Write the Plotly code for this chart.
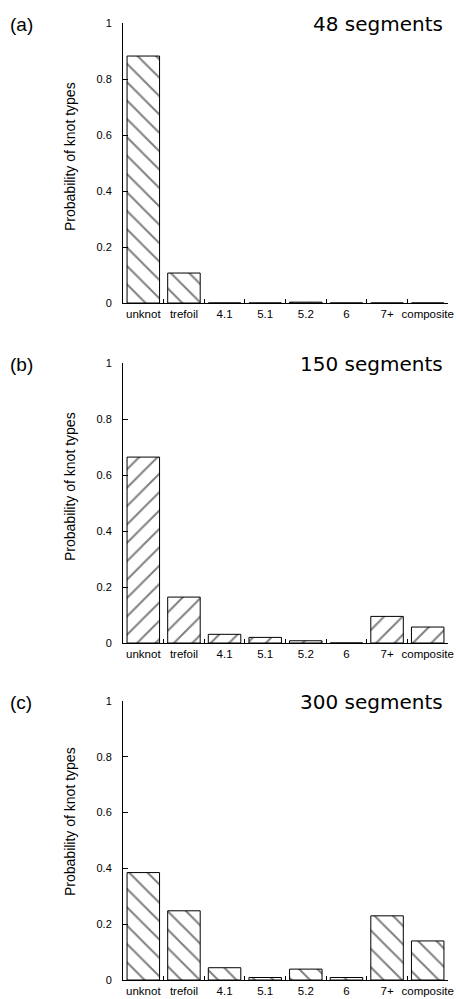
import plotly.graph_objects as go

categories = ["unknot", "trefoil", "4.1", "5.1", "5.2", "6", "7+", "composite"]
prob_48 = [0.882, 0.107, 0.0, 0.0, 0.003, 0.0, 0.0, 0.0]
prob_150 = [0.664, 0.164, 0.031, 0.020, 0.008, 0.0, 0.095, 0.057]
prob_300 = [0.385, 0.248, 0.044, 0.009, 0.039, 0.009, 0.230, 0.140]
series = [prob_48, prob_150, prob_300]
panel_letters = ["(a)", "(b)", "(c)"]
panel_titles = ["48 segments", "150 segments", "300 segments"]
hatch_shapes = ["\\", "/", "\\"]
y_ticks = [0, 0.2, 0.4, 0.6, 0.8, 1]
y_tick_text = ["0", "0.2", "0.4", "0.6", "0.8", "1"]
y_title = "Probability of knot types"

W, H = 456, 999
panel_px = [(23, 303), (363, 643), (701, 980)]  # top, bottom pixel of y range
ytitle_center_px = [157, 487, 822]
x_left, x_right = 123, 448

fig = go.Figure()
font_main = "Liberation Sans, Arial, sans-serif"

for i, vals in enumerate(series):
    n = i + 1
    xa = "x" if n == 1 else f"x{n}"
    ya = "y" if n == 1 else f"y{n}"
    fig.add_trace(go.Bar(
        x=categories, y=vals, xaxis=xa, yaxis=ya, width=0.8,
        marker=dict(color="white", line=dict(color="black", width=1),
                    pattern=dict(shape=hatch_shapes[i], size=13, solidity=0.15,
                                 fgcolor="black", bgcolor="white")),
        showlegend=False, hoverinfo="skip"))
    top, bot = panel_px[i]
    dom_y = [1 - bot / H, 1 - top / H]
    xkey = "xaxis" if n == 1 else f"xaxis{n}"
    ykey = "yaxis" if n == 1 else f"yaxis{n}"
    fig.update_layout(**{
        xkey: dict(domain=[x_left / W, x_right / W], anchor=ya, type="category",
                   range=[-0.5, 7.5], showline=True, linecolor="black", linewidth=1,
                   ticks="inside", tickson="boundaries", ticklen=4, tickcolor="black",
                   tickwidth=1, showgrid=False, zeroline=False, tickangle=0,
                   ticklabelstandoff=0,
                   tickfont=dict(family=font_main, size=11.5, color="black"),
                   automargin=False, fixedrange=True),
        ykey: dict(domain=dom_y, anchor=xa, range=[0, 1], showline=True,
                   linecolor="black", linewidth=1, ticks="inside", ticklen=5,
                   tickcolor="black", tickwidth=1, tickvals=y_ticks, ticktext=y_tick_text,
                   showgrid=False, zeroline=False, ticklabelstandoff=8,
                   tickfont=dict(family=font_main, size=11, color="black"),
                   automargin=False, fixedrange=True),
    })
    fig.add_annotation(text=panel_letters[i], xref="paper", yref="paper",
                       x=8 / W, y=1 - (top + 1) / H, xanchor="left", yanchor="middle",
                       showarrow=False, font=dict(family=font_main, size=19, color="black"))
    fig.add_annotation(text=panel_titles[i], xref="paper", yref="paper",
                       x=445 / W, y=1 - (top + 1) / H, xanchor="right", yanchor="middle",
                       showarrow=False, font=dict(family="DejaVu Sans", size=20, color="black"))
    fig.add_annotation(text=y_title, xref="paper", yref="paper",
                       x=70 / W, y=1 - ytitle_center_px[i] / H, xanchor="center", yanchor="middle",
                       textangle=-90, showarrow=False,
                       font=dict(family=font_main, size=14, color="black"))

fig.update_layout(width=W, height=H, margin=dict(l=0, r=0, t=0, b=0),
                  plot_bgcolor="white", paper_bgcolor="white", bargap=0.2)
fig.write_html("out.html")
